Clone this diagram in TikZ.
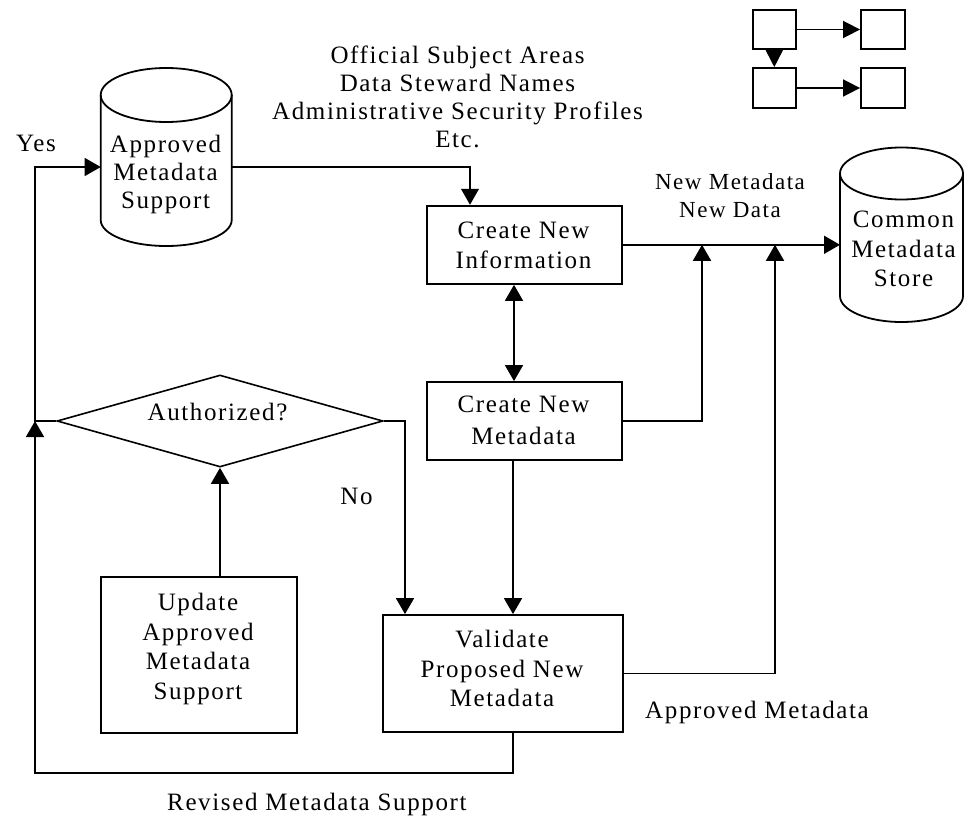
\documentclass[tikz,border=0pt]{standalone}
\usepackage{fontspec}
\setmainfont{Liberation Serif}[LetterSpace=6.5]
\usetikzlibrary{arrows.meta,shapes.geometric,calc}
\begin{document}
\begin{tikzpicture}[x=1pt,y=-1pt,
  box/.style={draw, line width=1.8pt, inner sep=0pt},
  cyl/.style={line width=1.8pt},
  tip/.style={-{Triangle[length=16pt,width=18pt]}},
  flow/.style={line width=1.6pt, tip},
  link/.style={line width=1.1pt, tip},
  keyarrow/.style={line width=1.6pt, -{Triangle[length=17pt,width=17pt]}},
  lbl/.style={inner sep=0pt, align=center, font=\fontsize{25}{29.5}\selectfont},
  note/.style={inner sep=0pt, align=center, font=\fontsize{25}{28}\selectfont},
  small/.style={inner sep=0pt, align=center, font=\fontsize{23}{28}\selectfont}]
\useasboundingbox (0,0) rectangle (964,824);

% ---- legend: four small boxes ----
\node[box, minimum width=43.3pt, minimum height=39pt] (k1) at (774.3,29.5) {};
\node[box, minimum width=44pt, minimum height=39pt] (k2) at (883,29.5) {};
\node[box, minimum width=43.3pt, minimum height=40pt] (k3) at (774.3,88) {};
\node[box, minimum width=44pt, minimum height=40pt] (k4) at (883,88) {};
\draw[keyarrow] (k1.east) -- (k2.west);
\draw[keyarrow] (k1.south) -- (k3.north);
\draw[keyarrow] (k3.east) -- (k4.west);

% ---- Approved Metadata Support store ----
\draw[cyl] (166.2,95) ellipse [x radius=65.5, y radius=27];
\draw[cyl] (100.7,95) -- (100.7,220)
  .. controls (100.7,234.4) and (130,246) .. (166.2,246)
  .. controls (202.4,246) and (231.7,234.4) .. (231.7,220) -- (231.7,95);
\node[note, anchor=north] (amstext) at (165.5,135) {Approved\\Metadata\\Support};
\coordinate (amsW) at (100.7,167);
\coordinate (amsE) at (231.7,167);

% ---- Common Metadata Store ----
\draw[cyl] (901.5,173.5) ellipse [x radius=61.5, y radius=26];
\draw[cyl] (840,173.5) -- (840,296)
  .. controls (840,310.4) and (867.5,322) .. (901.5,322)
  .. controls (935.5,322) and (963,310.4) .. (963,296) -- (963,173.5);
\node[lbl, anchor=north] (cmstext) at (903.5,211) {Common\\Metadata\\Store};
\coordinate (cmsW) at (840,244.8);

% ---- process boxes ----
\node[box, minimum width=195.3pt, minimum height=78.3pt] (info) at (524.3,244.8) {};
\node[lbl, anchor=north] (infotext) at (523.5,222) {Create New\\Information};
\node[box, minimum width=195.3pt, minimum height=78pt] (meta) at (524.3,421) {};
\node[lbl, anchor=north, font=\fontsize{25}{31.5}\selectfont] (metatext) at (523.5,396) {Create New\\Metadata};
\node[box, minimum width=240pt, minimum height=117pt] (valid) at (502.7,673.5) {};
\node[lbl, anchor=north] (validtext) at (502,630) {Validate\\Proposed New\\Metadata};
\node[box, minimum width=196pt, minimum height=156pt] (upd) at (198.7,655) {};
\node[lbl, anchor=north] (updtext) at (198,593) {Update\\Approved\\Metadata\\Support};

% ---- decision ----
\node[draw, diamond, line width=1.6pt, inner sep=0pt, aspect=3.54,
      minimum width=326pt, minimum height=92pt] (auth) at (220,421) {};
\node[lbl, anchor=base] (authtext) at (217.5,420) {Authorized?};

% ---- free labels ----
\node[note, anchor=north] (inputs) at (457.5,46)
  {Official Subject Areas\\Data Steward Names\\Administrative Security Profiles\\Etc.};
\node[small, anchor=north] (newdata) at (730,173.5) {New Metadata\\New Data};
\node[lbl, anchor=base] (yes) at (36,152) {Yes};
\node[lbl, anchor=base] (no) at (356.5,504) {No};
\node[lbl, anchor=base west] (apprlbl) at (645,718) {Approved Metadata};
\node[lbl, anchor=base west] (revlbl) at (167,810) {Revised Metadata Support};

% ---- junctions on the line into the common store ----
\coordinate (j1) at (702,244.8);
\coordinate (j2) at (775,244.8);
\coordinate (lft) at (35,421);

% ---- connectors ----
\draw[link] (amsE) -| ([xshift=-54.3pt]info.north);
\draw[flow] (info.east) -- (cmsW);
\draw[line width=1.6pt, {Triangle[length=16pt,width=18pt]}-{Triangle[length=16pt,width=18pt]}]
  ([xshift=-10.3pt]info.south) -- ([xshift=-10.3pt]meta.north);
\draw[flow] (meta.east) -| (j1);
\draw[flow] (valid.east) -| (j2);
\draw[flow] ([xshift=-11.3pt]meta.south) -- ([xshift=10.3pt]valid.north);
\draw[flow] (auth.east) -| ([xshift=-97.7pt]valid.north);
\draw[flow] ([xshift=21.3pt]upd.north) -- (auth.south);
\draw[link] (auth.west) -- (lft) |- (amsW);
\draw[flow] ([xshift=10.3pt]valid.south) -- ++(0,40) -| (lft);
\end{tikzpicture}
\end{document}
